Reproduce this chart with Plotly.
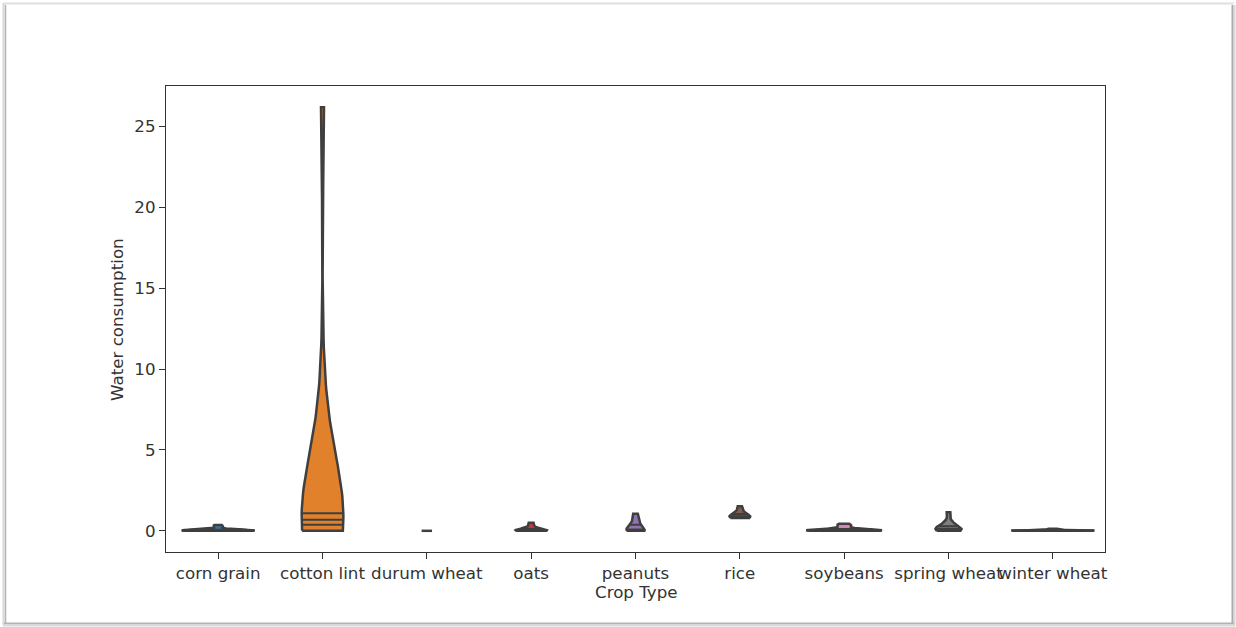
import numpy as np
import plotly.graph_objects as go

# Water consumption samples per crop type
crop_types = ["corn grain", "cotton lint", "durum wheat", "oats", "peanuts",
              "rice", "soybeans", "spring wheat", "winter wheat"]

corn_grain = [0.00, 0.00, 0.00, 0.01, 0.01, 0.01, 0.01, 0.01, 0.02, 0.02,
              0.02, 0.02, 0.02, 0.03, 0.03, 0.03, 0.03, 0.04, 0.04, 0.05,
              0.06, 0.08, 0.11, 0.15, 0.22, 0.28, 0.32, 0.36]
cotton_lint = [0.00, 0.10, 0.22, 0.35, 0.38, 0.52, 0.60, 0.65, 0.71, 0.80,
               0.95, 1.05, 1.20, 3.60, 7.20, 26.20]
durum_wheat = [0.00, 0.00, 0.00, 0.00]
oats = [0.00, 0.00, 0.01, 0.01, 0.02, 0.03, 0.04, 0.06, 0.09, 0.20, 0.36, 0.50]
peanuts = [0.00, 0.02, 0.04, 0.08, 0.13, 0.62, 1.05]
rice = [0.80, 0.82, 0.85, 0.88, 0.92, 0.98, 1.22, 1.52]
soybeans = [0.00, 0.00, 0.00, 0.01, 0.01, 0.01, 0.01, 0.02, 0.02, 0.02,
            0.02, 0.03, 0.03, 0.03, 0.04, 0.04, 0.05, 0.05, 0.06, 0.07,
            0.09, 0.12, 0.16, 0.21, 0.27, 0.32, 0.36, 0.40, 0.43]
spring_wheat = [0.00, 0.01, 0.03, 0.06, 0.10, 0.15, 0.22, 0.31, 0.55, 1.15]
winter_wheat = [0.00, 0.00, 0.00, 0.00, 0.00, 0.00, 0.01, 0.01, 0.01, 0.01,
                0.01, 0.01, 0.01, 0.01, 0.02, 0.02, 0.02, 0.02, 0.02, 0.02,
                0.03, 0.03, 0.03, 0.03, 0.04, 0.04, 0.05, 0.06, 0.08, 0.10,
                0.12, 0.13]

samples = [corn_grain, cotton_lint, durum_wheat, oats, peanuts,
           rice, soybeans, spring_wheat, winter_wheat]

colors = ["#3274a1", "#e1812c", "#3a923a", "#c03d3e", "#9372b2",
          "#845b53", "#d684bd", "#7f7f7f", "#a9aa35"]
y_ticks = [0, 5, 10, 15, 20, 25]

EDGE = "#3f3f3f"
LW = 2.5
HALF_WIDTH = 0.4
FONT = dict(family="DejaVu Sans", size=16.7, color="#333333")


def gaussian_kde(values, grid):
    """Gaussian KDE with Scott's bandwidth."""
    x = np.asarray(values, dtype=float)
    n = x.size
    bw = np.std(x, ddof=1) * n ** (-1.0 / 5.0)
    z = (grid[:, None] - x[None, :]) / bw
    return np.exp(-0.5 * z ** 2).sum(axis=1) / (n * bw * np.sqrt(2 * np.pi))


max_count = max(len(s) for s in samples)
fig = go.Figure()

for pos, (vals, color) in enumerate(zip(samples, colors)):
    vals = np.asarray(vals, dtype=float)
    scale = HALF_WIDTH * len(vals) / max_count
    if np.unique(vals).size == 1:
        # a single distinct value collapses to a horizontal stroke
        fig.add_trace(go.Scatter(
            x=[pos - scale, pos + scale], y=[vals[0], vals[0]],
            mode="lines", line=dict(color=EDGE, width=LW),
            hoverinfo="skip", showlegend=False))
        continue
    support = np.linspace(vals.min(), vals.max(), 100)
    dens = gaussian_kde(vals, support)
    half = dens / dens.max() * scale
    xs = np.concatenate([pos - half, (pos + half)[::-1], [pos - half[0]]])
    ys = np.concatenate([support, support[::-1], [support[0]]])
    fig.add_trace(go.Scatter(
        x=xs, y=ys, mode="lines", fill="toself", fillcolor=color,
        line=dict(color=EDGE, width=LW), hoverinfo="skip", showlegend=False))
    # quartile lines spanning the violin body
    for q in np.percentile(vals, [25, 50, 75]):
        w = np.interp(q, support, half)
        fig.add_trace(go.Scatter(
            x=[pos - w, pos + w], y=[q, q], mode="lines",
            line=dict(color=EDGE, width=LW * 0.8),
            hoverinfo="skip", showlegend=False))

# axis limits with a 5% pad around the data
all_vals = np.concatenate([np.asarray(s, dtype=float) for s in samples])
lo, hi = all_vals.min(), all_vals.max()
pad = 0.05 * (hi - lo)

W, H = 1236, 627
L, R, T, B = 166, 1105, 86, 552


def px(x, y):
    return (x - L) / (R - L), (B - y) / (B - T)


frame_lines = [
    ((3, 3.5), (1234, 3.5), "#e0e0e0", 2),
    ((3.5, 3), (3.5, 625), "#d8d8d8", 2),
    ((5.5, 5), (5.5, 623), "#b4b4b4", 1.5),
    ((1232.5, 5), (1232.5, 624), "#a9a9a9", 2),
    ((1234.5, 5), (1234.5, 626), "#d8d8d8", 2),
    ((4, 623.5), (1234, 623.5), "#b2b2b2", 2),
    ((3, 625.5), (1235, 625.5), "#dadada", 2),
]
shapes = []
for (x0, y0), (x1, y1), c, w in frame_lines:
    a0, b0 = px(x0, y0)
    a1, b1 = px(x1, y1)
    shapes.append(dict(type="line", xref="paper", yref="paper",
                       x0=a0, y0=b0, x1=a1, y1=b1,
                       line=dict(color=c, width=w), layer="above"))

ax_title_x = px(117, 320)
ax_title_y = px(636, 592)

fig.update_layout(
    width=W, height=H, autosize=False,
    margin=dict(l=L, r=W - R, t=T, b=H - B, pad=0, autoexpand=False),
    paper_bgcolor="white", plot_bgcolor="white",
    font=FONT,
    shapes=shapes,
    annotations=[
        dict(text="Water consumption", xref="paper", yref="paper",
             x=ax_title_x[0], y=ax_title_x[1], textangle=-90,
             showarrow=False, xanchor="center", yanchor="middle", font=FONT),
        dict(text="Crop Type", xref="paper", yref="paper",
             x=ax_title_y[0], y=ax_title_y[1], showarrow=False,
             xanchor="center", yanchor="middle", font=FONT),
    ],
    xaxis=dict(range=[-0.5, len(crop_types) - 0.5],
               tickvals=list(range(len(crop_types))), ticktext=crop_types,
               tickangle=0, automargin=False,
               showgrid=False, zeroline=False, showline=True, mirror=True,
               linecolor="#333333", linewidth=1.3, ticks="outside",
               ticklen=6, tickwidth=1.3, tickcolor="#333333",
               tickfont=FONT),
    yaxis=dict(range=[lo - pad, hi + pad], tickvals=y_ticks,
               automargin=False,
               showgrid=False, zeroline=False, showline=True, mirror=True,
               linecolor="#333333", linewidth=1.3, ticks="outside",
               ticklen=6, tickwidth=1.3, tickcolor="#333333",
               tickfont=FONT),
)

fig.write_html("out.html")
